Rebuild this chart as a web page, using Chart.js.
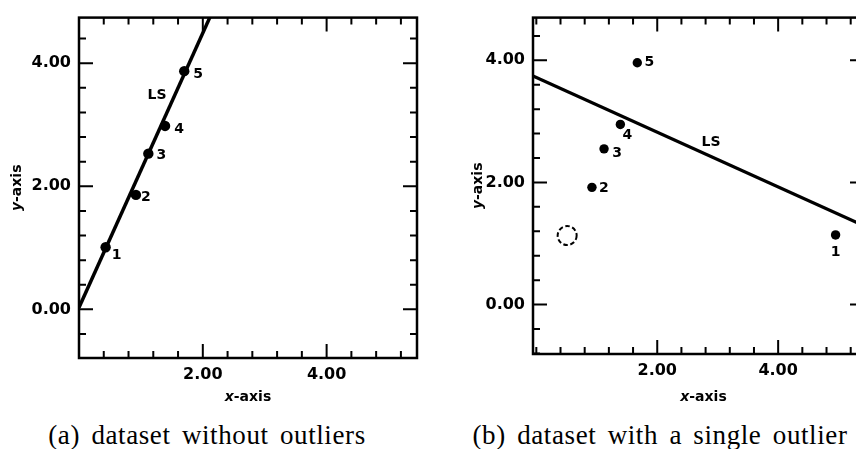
<!DOCTYPE html>
<html>
<head>
<meta charset="utf-8">
<script src="https://cdn.jsdelivr.net/npm/chart.js@4.4.1/dist/chart.umd.min.js"></script>
<style>
  html, body { margin: 0; padding: 0; background: #fff; overflow: hidden; }
  #wrap { position: relative; width: 856px; height: 449px; overflow: hidden; background: #fff; }
  .panel { position: absolute; top: 0; }
  .cap {
    position: absolute; top: 420px; line-height: 30px; white-space: nowrap;
    font-family: 'Liberation Serif', 'Times New Roman', serif; font-size: 27px;
    letter-spacing: 0.6px; word-spacing: 4px; color: #000;
    transform: translateX(-50%);
  }
</style>
</head>
<body>
<div id="wrap">
  <div class="panel" style="left:0px"><canvas id="chartA" width="428" height="412"></canvas></div>
  <div class="panel" style="left:460px"><canvas id="chartB" width="420" height="412"></canvas></div>
  <div class="cap" style="left:207px">(a) dataset without outliers</div>
  <div class="cap" style="left:660px">(b) dataset with a single outlier</div>
</div>
<script>
// Observation numbers shown next to the dots
const pointNames = ['1', '2', '3', '4', '5'];

// (a) five well-behaved observations
const xClean = [0.43, 0.92, 1.12, 1.39, 1.70];
const yClean = [1.01, 1.86, 2.53, 2.98, 3.87];
const lsClean = [0.03, 2.23];          // LS fit: intercept, slope

// (b) observation 1 shifted far to the right
const xOutlier = [4.95, 0.92, 1.12, 1.39, 1.67];
const yOutlier = [1.14, 1.92, 2.55, 2.95, 3.96];
const oldPosition = [0.51, 1.13];      // where observation 1 used to be
const lsOutlier = [3.72, -0.448];      // LS fit: intercept, slope

// Axis ticks
const tickStep = 0.4;
const xMajorTicks = [2, 4];
const xMajorLabels = ['2.00', '4.00'];
const yMajorTicks = [0, 2, 4];
const yMajorLabels = ['0.00', '2.00', '4.00'];

const SANS = '"DejaVu Sans", "Liberation Sans", sans-serif';

function stepTicks(min, max) {
  const out = [];
  for (let k = Math.ceil(min / tickStep); k * tickStep <= max; k++) {
    const v = Math.round(k * tickStep * 100) / 100;
    if (v > min + 1e-6 && v < max - 1e-6) out.push(v);
  }
  return out;
}

// Box frame with inward tick marks on all four sides, axis titles, labels
const decorations = {
  id: 'decorations',
  afterDatasetsDraw(chart, args, o) {
    const { ctx, chartArea: a, scales: { x, y } } = chart;
    ctx.save();
    ctx.strokeStyle = '#000';
    ctx.lineCap = 'butt';

    // tick marks
    ctx.lineWidth = 2;
    ctx.beginPath();
    for (const t of x.ticks) {
      const p = x.getPixelForValue(t.value);
      const len = xMajorTicks.includes(t.value) ? o.major : o.minor;
      ctx.moveTo(p, a.bottom); ctx.lineTo(p, a.bottom - len);
      ctx.moveTo(p, a.top); ctx.lineTo(p, a.top + len);
    }
    for (const t of y.ticks) {
      const p = y.getPixelForValue(t.value);
      const len = yMajorTicks.includes(t.value) ? o.major : o.minor;
      ctx.moveTo(a.left, p); ctx.lineTo(a.left + len, p);
      ctx.moveTo(a.right, p); ctx.lineTo(a.right - len, p);
    }
    ctx.stroke();

    // frame
    ctx.lineWidth = 2.5;
    ctx.strokeRect(a.left, a.top, a.right - a.left, a.bottom - a.top);

    // former position of the moved observation
    if (o.ghost) {
      ctx.lineWidth = 2;
      ctx.setLineDash([4.5, 2.6]);
      ctx.beginPath();
      ctx.arc(x.getPixelForValue(o.ghost[0]), y.getPixelForValue(o.ghost[1]), 9.5, 0, Math.PI * 2);
      ctx.stroke();
      ctx.setLineDash([]);
    }

    // observation numbers
    ctx.fillStyle = '#000';
    ctx.textAlign = 'center';
    ctx.textBaseline = 'middle';
    ctx.font = 'bold 14px ' + SANS;
    const pts = chart.getDatasetMeta(0).data;
    pts.forEach((el, i) => {
      const [dx, dy] = o.tagOffsets[i];
      ctx.fillText(pointNames[i], el.x + dx, el.y + dy);
    });
    ctx.fillText('LS', x.getPixelForValue(o.lsTag[0]), y.getPixelForValue(o.lsTag[1]));

    // axis titles with italic variable letter
    const title = (letter, cx, cy, rot) => {
      ctx.save();
      ctx.translate(cx, cy);
      ctx.rotate(rot);
      const f1 = 'italic bold 14px ' + SANS, f2 = 'bold 14px ' + SANS;
      ctx.font = f1; const w1 = ctx.measureText(letter).width;
      ctx.font = f2; const w2 = ctx.measureText('-axis').width;
      const start = -(w1 + w2) / 2;
      ctx.textAlign = 'left';
      ctx.font = f1; ctx.fillText(letter, start, 0);
      ctx.font = f2; ctx.fillText('-axis', start + w1, 0);
      ctx.restore();
    };
    title('x', (a.left + a.right) / 2 + o.xTitleShift, a.bottom + o.xTitleGap, 0);
    title('y', a.left - o.yTitleGap, (a.top + a.bottom) / 2, -Math.PI / 2);
    ctx.restore();
  }
};

function makePanel(id, p) {
  const points = p.xs.map((v, i) => ({ x: v, y: p.ys[i] }));
  const fitLine = [p.xMin, p.xMax].map(v => ({ x: v, y: p.ls[0] + p.ls[1] * v }));
  return new Chart(document.getElementById(id), {
    type: 'scatter',
    data: {
      datasets: [
        { data: points, pointRadius: p.dot, pointHoverRadius: p.dot, backgroundColor: '#000', borderWidth: 0 },
        { type: 'line', data: fitLine, showLine: true, pointRadius: 0, borderColor: '#000', borderWidth: p.lineWidth, fill: false, tension: 0 }
      ]
    },
    options: {
      responsive: false,
      animation: false,
      devicePixelRatio: 1,
      events: [],
      layout: { padding: { top: p.top, right: p.right, left: 0, bottom: 0 } },
      scales: {
        x: {
          type: 'linear', position: 'bottom', min: p.xMin, max: p.xMax,
          grid: { display: false, drawTicks: false, tickLength: 0 },
          border: { display: false },
          afterBuildTicks: s => { s.ticks = stepTicks(p.xMin, p.xMax).map(v => ({ value: v })); },
          afterFit: s => { s.height = p.xAxisHeight; },
          ticks: {
            autoSkip: false, maxRotation: 0, padding: p.xPad, color: '#000',
            font: { family: SANS, size: 16, weight: 'bold' },
            callback: v => { const i = xMajorTicks.indexOf(v); return i >= 0 ? xMajorLabels[i] : ''; }
          }
        },
        y: {
          type: 'linear', position: 'left', min: p.yMin, max: p.yMax,
          grid: { display: false, drawTicks: false, tickLength: 0 },
          border: { display: false },
          afterBuildTicks: s => { s.ticks = stepTicks(p.yMin, p.yMax).map(v => ({ value: v })); },
          afterFit: s => { s.width = p.yAxisWidth; },
          ticks: {
            autoSkip: false, padding: 8, color: '#000',
            font: { family: SANS, size: 16, weight: 'bold' },
            callback: v => { const i = yMajorTicks.indexOf(v); return i >= 0 ? yMajorLabels[i] : ''; }
          }
        }
      },
      plugins: {
        legend: { display: false },
        tooltip: { enabled: false },
        decorations: {
          major: 14, minor: 7,
          tagOffsets: p.tagOffsets, lsTag: p.lsTag, ghost: p.ghost,
          xTitleGap: p.xTitleGap, xTitleShift: p.xTitleShift, yTitleGap: p.yTitleGap
        }
      }
    },
    plugins: [decorations]
  });
}

makePanel('chartA', {
  xs: xClean, ys: yClean, ls: lsClean, dot: 5.2, lineWidth: 3.5,
  xMin: 0, xMax: 5.46, yMin: -0.79, yMax: 4.74,
  top: 16, right: 11, yAxisWidth: 79, xAxisHeight: 54, xPad: 7,
  tagOffsets: [[11, 8], [10, 2], [13, 2], [14, 3], [14, 3]],
  lsTag: [1.26, 3.47], ghost: null,
  xTitleGap: 39, xTitleShift: 0, yTitleGap: 62
});

makePanel('chartB', {
  xs: xOutlier, ys: yOutlier, ls: lsOutlier, dot: 4.7, lineWidth: 3.2,
  xMin: -0.055, xMax: 5.42, yMin: -0.81, yMax: 4.70,
  top: 17, right: 16, yAxisWidth: 73, xAxisHeight: 58, xPad: 7,
  tagOffsets: [[0, 17], [12, 1], [13, 4], [7, 11], [12, 0]],
  lsTag: [2.89, 2.66], ghost: oldPosition,
  xTitleGap: 43, xTitleShift: 5, yTitleGap: 55
});
</script>
</body>
</html>
